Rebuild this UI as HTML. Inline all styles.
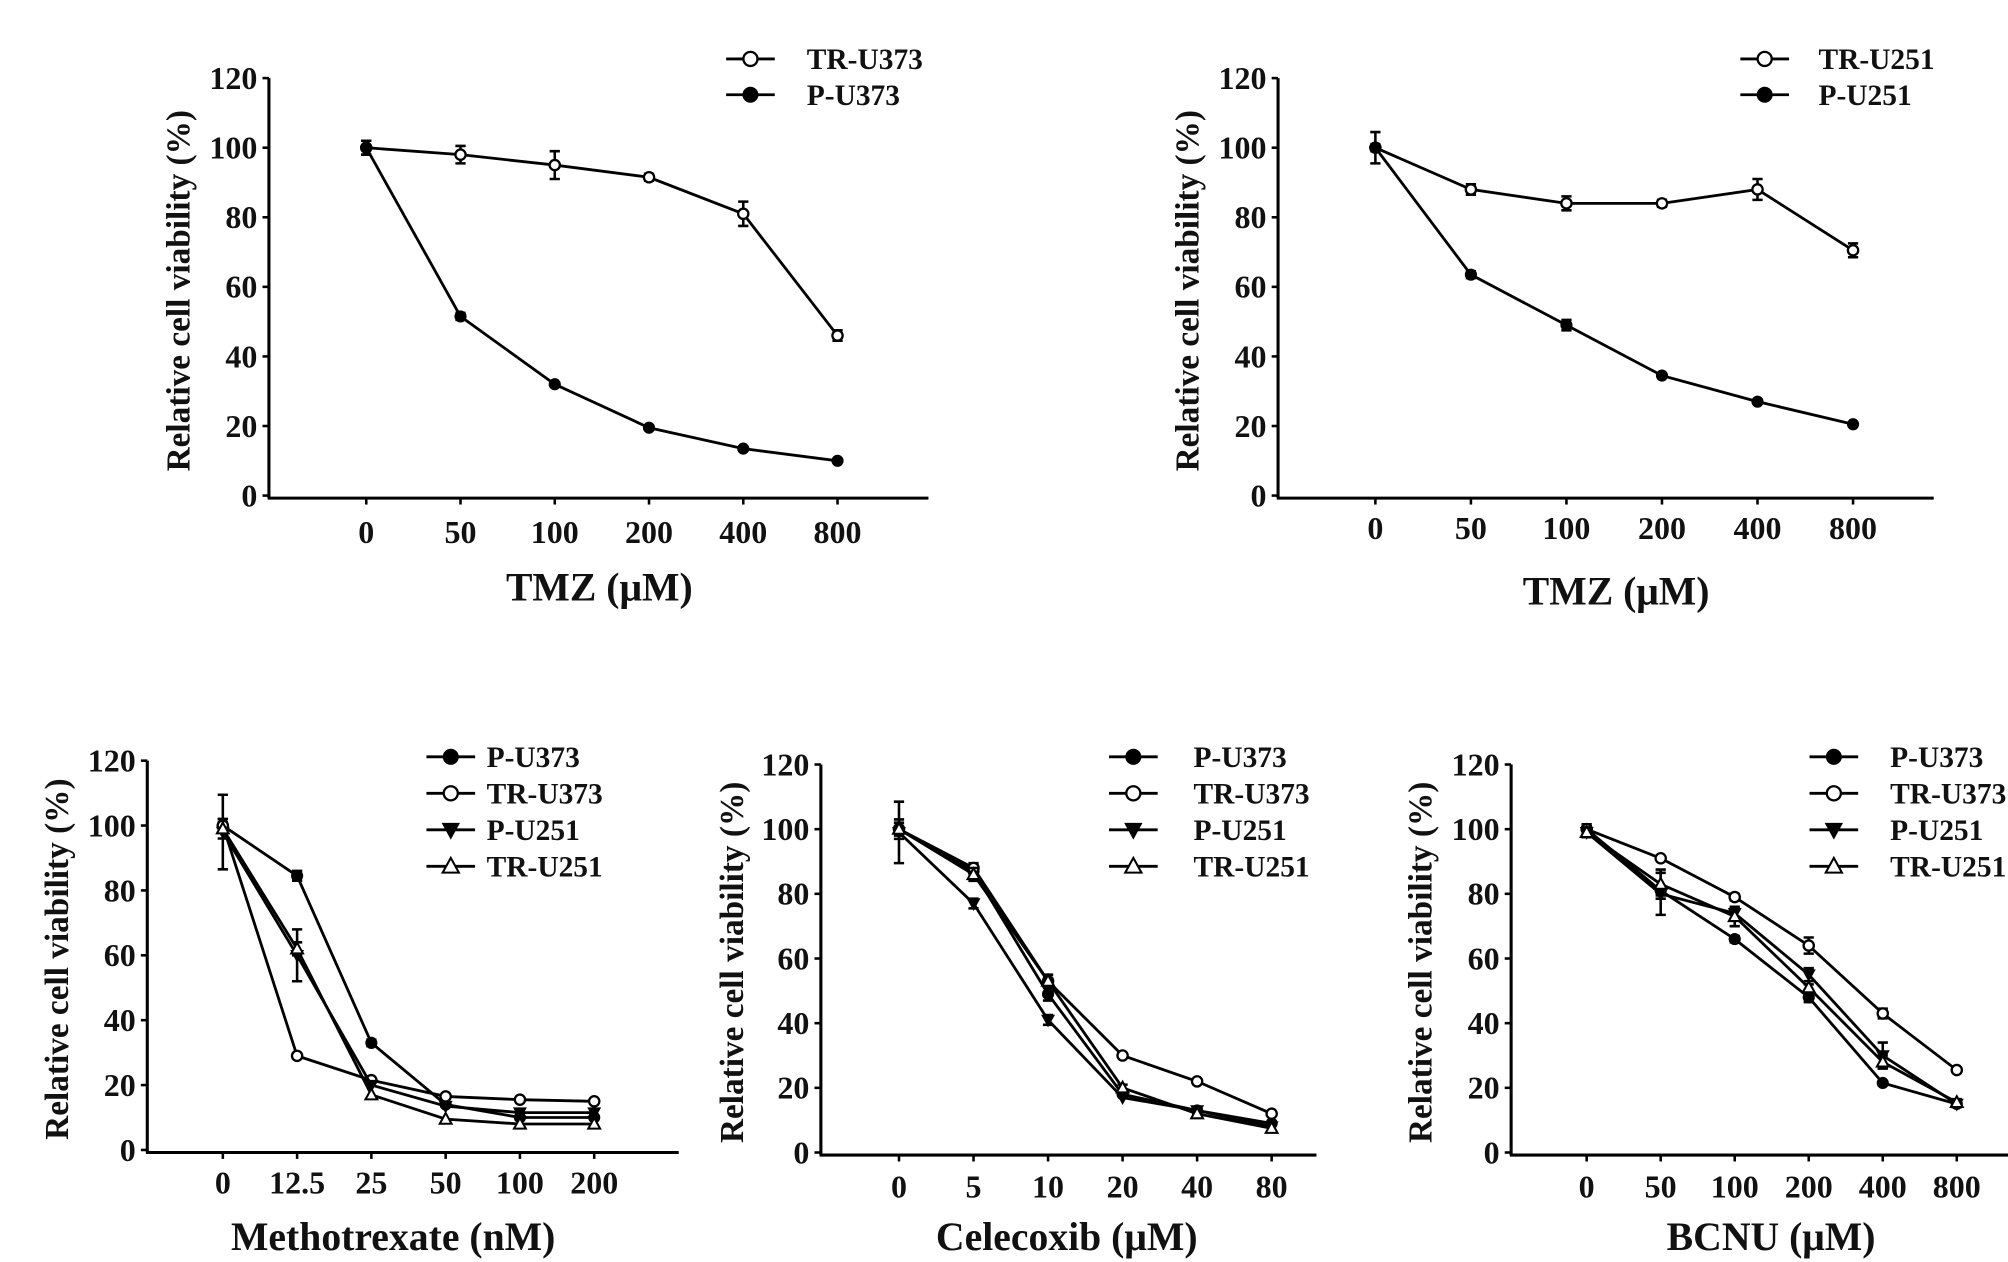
<!DOCTYPE html>
<html><head><meta charset="utf-8"><style>
html,body{margin:0;padding:0;background:#fff}
svg{display:block}
text{font-family:"Liberation Serif",serif;font-weight:bold;fill:#111}
</style></head><body>
<svg id="fig" xmlns="http://www.w3.org/2000/svg" width="2008" height="1262" viewBox="0 0 1568 985.5" preserveAspectRatio="none"></svg>
<script>
// Panel A: TMZ on U373
const catsA = ["0","50","100","200","400","800"];
const trU373A = [100,98,95,91.5,81,46];
const trU373Aerr = [2,2.5,4,1,3.5,1.5];
const pU373A = [100,51.5,32,19.5,13.5,10];
const pU373Aerr = [2,1,0.6,0.5,0.5,0.5];
// Panel B: TMZ on U251
const catsB = ["0","50","100","200","400","800"];
const trU251B = [100,88,84,84,88,70.5];
const trU251Berr = [4.5,1.5,2,1,3,2];
const pU251B = [100,63.5,49,34.5,27,20.5];
const pU251Berr = [1,1,1.5,0.5,0.5,0.5];
// Panel C: Methotrexate
const catsC = ["0","12.5","25","50","100","200"];
const pU373C = [100,84.5,33,14,10,10];
const pU373Cerr = [2,1.5,1,0.5,0.5,0.5];
const trU373C = [100,29,21.5,16.5,15.5,15];
const trU373Cerr = [1,0.5,0.5,0.5,0.5,0.5];
const pU251C = [98,60,20,13.5,11.5,11.5];
const pU251Cerr = [11.5,8,0.5,0.5,0.5,0.5];
const trU251C = [99,62,17,9.5,8,8];
const trU251Cerr = [3,2,0.5,0.5,0.5,0.5];
// Panel D: Celecoxib
const catsD = ["0","5","10","20","40","80"];
const pU373D = [100,87,49,18,13,9];
const pU373Derr = [2,1.5,2,0.5,1,0.5];
const trU373D = [100,88,53,30,22,12];
const trU373Derr = [1,1.5,1,0.5,0.5,0.5];
const pU251D = [99,77,41,17,13,8];
const pU251Derr = [9.5,1.5,1.5,0.5,0.5,0.5];
const trU251D = [100,86,53,20,12,7.5];
const trU251Derr = [3,2,2,1,0.5,0.5];
// Panel E: BCNU
const catsE = ["0","50","100","200","400","800"];
const pU373E = [100,81,66,48,21.5,15];
const pU373Eerr = [1.5,1.5,1,1.5,0.5,0.5];
const trU373E = [100,91,79,64,43,25.5];
const trU373Eerr = [1,0.5,1,2.5,1.5,0.5];
const pU251E = [99,80,74,55,30,15];
const pU251Eerr = [1.5,6.5,1.5,2,4,1];
const trU251E = [99,83,73,51,28,15.5];
const trU251Eerr = [1.5,4.5,3,1,2,1];
const yTicks = [0,20,40,60,80,100,120];

const NS="http://www.w3.org/2000/svg";
const svg=document.getElementById('fig');
function mk(tag,attrs,parent){const e=document.createElementNS(NS,tag);for(const k in attrs)e.setAttribute(k,attrs[k]);(parent||svg).appendChild(e);return e;}

function marker(g,type,x,y,r){
  let m;
  if(type==='fc') m=mk('circle',{cx:x,cy:y,r:r,fill:'#000',stroke:'#000','stroke-width':1.5},g);
  else if(type==='oc') m=mk('circle',{cx:x,cy:y,r:r,fill:'#fff',stroke:'#000','stroke-width':1.8},g);
  else if(type==='fd') m=mk('polygon',{points:`${x-r*1.15},${y-r*0.9} ${x+r*1.15},${y-r*0.9} ${x},${y+r*1.2}`,fill:'#000',stroke:'#000','stroke-width':1},g);
  else m=mk('polygon',{points:`${x-r*1.15},${y+r*0.9} ${x+r*1.15},${y+r*0.9} ${x},${y-r*1.2}`,fill:'#fff',stroke:'#000','stroke-width':1.6},g);
  return m;
}

function panel(p){
  const g=mk('g',{});
  
  
  const yS=v=>p.y0-(v/120)*(p.y0-p.y120);
  const xS=i=>p.xFirst+i*p.xStep;
  const ya=mk('line',{x1:p.ax,y1:p.y120,x2:p.ax,y2:p.y0+2,stroke:'#000','stroke-width':2.4},g);
  
  const xa=mk('line',{x1:p.ax-1,y1:p.y0+2,x2:p.xEnd,y2:p.y0+2,stroke:'#000','stroke-width':2.4},g);
  
  yTicks.forEach(v=>{
    mk('line',{x1:p.ax-5,y1:yS(v),x2:p.ax,y2:yS(v),stroke:'#000','stroke-width':2},g);
    const t=mk('text',{x:p.ax-9,y:yS(v)+8.5,'text-anchor':'end','font-size':p.fs},g);
    t.textContent=v;
    
  });
  p.cats.forEach((c,i)=>{
    mk('line',{x1:xS(i),y1:p.y0+2,x2:xS(i),y2:p.y0+7,stroke:'#000','stroke-width':2},g);
    const t=mk('text',{x:xS(i),y:p.y0+p.tickDy,'text-anchor':'middle','font-size':p.fs},g);
    t.textContent=c;
    
  });
  const xt=mk('text',{x:p.xtX,y:p.xtY,'text-anchor':'middle','font-size':p.tfs},g);
  xt.textContent=p.xTitle;
  
  const yt=mk('text',{x:0,y:0,'text-anchor':'middle','font-size':p.yfs,transform:`translate(${p.ytX},${(p.y0+p.y120)/2+3}) rotate(-90)`},g);
  yt.textContent='Relative cell viability (%)';
  
  p.series.forEach((s,si)=>{
    const sg=mk('g',{},g);
    
    
    const pts=s.vals.map((v,i)=>xS(i)+','+yS(v)).join(' ');
    const pl=mk('polyline',{points:pts,fill:'none',stroke:'#000','stroke-width':2.2},sg);
    
    s.vals.forEach((v,i)=>{
      const e=s.err[i];
      const x=xS(i);
      if(e>0.8){
        const eb=mk('path',{d:`M${x},${yS(v+e)}V${yS(v-e)}M${x-4},${yS(v+e)}H${x+4}M${x-4},${yS(v-e)}H${x+4}`,stroke:'#000','stroke-width':2,fill:'none'},sg);
        
      }
      const m=marker(sg,s.type,x,yS(v),4);
      
      
    });
    const ly=p.legY+si*p.legStep;
    const lg=mk('g',{},g);
    
    
    mk('line',{x1:p.legX-19,y1:ly,x2:p.legX+19,y2:ly,stroke:'#000','stroke-width':2.2},lg);
    marker(lg,s.type,p.legX,ly,5.5);
    const lt=mk('text',{x:p.legTx,y:ly+8,'font-size':p.lfs},lg);
    lt.textContent=s.label;
  });
}

panel({name:'panel-tmz-u373',ax:210,y0:387,y120:61,xEnd:725,xFirst:286,xStep:73.6,cats:catsA,tickDy:37,fs:25,tfs:31,yfs:26,lfs:23,
  xTitle:'TMZ (μM)',xtX:468,xtY:469,ytX:148,legX:586,legTx:630,legY:46,legStep:28,
  series:[{label:'TR-U373',type:'oc',vals:trU373A,err:trU373Aerr},{label:'P-U373',type:'fc',vals:pU373A,err:pU373Aerr}]});
panel({name:'panel-tmz-u251',ax:998,y0:387,y120:61,xEnd:1510,xFirst:1074,xStep:74.6,cats:catsB,tickDy:34,fs:25,tfs:31,yfs:26,lfs:23,
  xTitle:'TMZ (μM)',xtX:1262,xtY:472,ytX:936,legX:1378,legTx:1420,legY:46,legStep:28,
  series:[{label:'TR-U251',type:'oc',vals:trU251B,err:trU251Berr},{label:'P-U251',type:'fc',vals:pU251B,err:pU251Berr}]});
panel({name:'panel-methotrexate',ax:115,y0:898,y120:594,xEnd:530,xFirst:174,xStep:58,cats:catsC,tickDy:34,fs:25,tfs:31,yfs:26,lfs:23,
  xTitle:'Methotrexate (nM)',xtX:307,xtY:976,ytX:53,legX:352,legTx:380,legY:591,legStep:28.5,
  series:[{label:'P-U373',type:'fc',vals:pU373C,err:pU373Cerr},{label:'TR-U373',type:'oc',vals:trU373C,err:trU373Cerr},
          {label:'P-U251',type:'fd',vals:pU251C,err:pU251Cerr},{label:'TR-U251',type:'ou',vals:trU251C,err:trU251Cerr}]});
panel({name:'panel-celecoxib',ax:641,y0:900,y120:597,xEnd:1028,xFirst:702,xStep:58.2,cats:catsD,tickDy:35,fs:25,tfs:31,yfs:26,lfs:23,
  xTitle:'Celecoxib (μM)',xtX:833,xtY:976,ytX:580,legX:885,legTx:932,legY:591,legStep:28.5,
  series:[{label:'P-U373',type:'fc',vals:pU373D,err:pU373Derr},{label:'TR-U373',type:'oc',vals:trU373D,err:trU373Derr},
          {label:'P-U251',type:'fd',vals:pU251D,err:pU251Derr},{label:'TR-U251',type:'ou',vals:trU251D,err:trU251Derr}]});
panel({name:'panel-bcnu',ax:1180,y0:900,y120:597,xEnd:1568,xFirst:1239,xStep:57.8,cats:catsE,tickDy:35,fs:25,tfs:31,yfs:26,lfs:23,
  xTitle:'BCNU (μM)',xtX:1383,xtY:976,ytX:1118,legX:1432,legTx:1476,legY:591,legStep:28.5,
  series:[{label:'P-U373',type:'fc',vals:pU373E,err:pU373Eerr},{label:'TR-U373',type:'oc',vals:trU373E,err:trU373Eerr},
          {label:'P-U251',type:'fd',vals:pU251E,err:pU251Eerr},{label:'TR-U251',type:'ou',vals:trU251E,err:trU251Eerr}]});
</script>
</body></html>
